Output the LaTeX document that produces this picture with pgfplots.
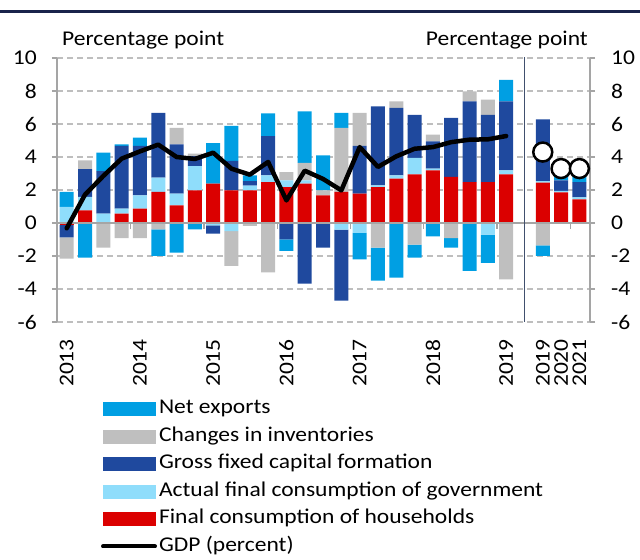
\documentclass[border=0pt]{standalone}
\usepackage{pgfplots}
\pgfplotsset{compat=1.18}
\usepackage{pgfplotstable}
\usepackage{fontspec}
\setmainfont{Carlito}[FakeStretch=1.12]

\definecolor{cNE}{RGB}{0,159,227}
\definecolor{cINV}{RGB}{191,191,191}
\definecolor{cGF}{RGB}{31,73,158}
\definecolor{cGOV}{RGB}{143,221,251}
\definecolor{cHH}{RGB}{219,0,0}
\definecolor{cGrid}{RGB}{190,190,190}
\definecolor{cAx}{RGB}{165,165,165}
\definecolor{cSep}{RGB}{65,80,110}
\definecolor{cRule}{RGB}{25,35,75}

% contributions, percentage points (quarters 0..24 = 2013Q1..2019Q1; 26..28 = 2019, 2020, 2021)
\pgfplotstableread{
i   hh    gov    gfcf   inv    ne
0  -0.12  0.97  -0.75  -1.29   0.91
1   0.77  0.81   1.68   0.53  -2.10
2   0.00  0.57   2.57  -1.50   1.13
3   0.57  0.30   3.80  -0.91   0.10
4   0.87  0.81   2.99  -0.91   0.50
5   1.88  0.87   3.92  -0.38  -1.62
6   1.07  0.71   2.99   0.99  -1.80
7   1.98  1.47   0.60   0.15  -0.38
8   2.38 -0.15  -0.50   0.00   2.46
9   1.98 -0.50   1.78  -2.10   2.12
10  1.98  0.28   0.28  -0.18   0.34
11  2.48  0.40   2.38  -3.00   1.39
12  2.18  0.40  -1.00   0.50  -0.69
13  2.38  0.20  -3.67   1.07   3.11
14  1.68  0.00  -1.50   0.30   2.12
15  1.88 -0.40  -4.30   3.88   0.91
16  1.78 -0.60   2.89   2.00  -1.60
17  2.18  0.10   4.79  -1.50  -2.00
18  2.69  0.20   4.08   0.40  -3.31
19  2.95  1.00   2.60  -1.31  -0.79
20  3.19  0.10   1.66   0.40  -0.81
21  2.79  0.00   3.58  -0.91  -0.59
22  2.48  0.00   4.89   0.61  -2.90
23  2.48 -0.71   4.08   0.91  -1.70
24  2.95  0.24   4.18  -3.41   1.31
26  2.44  0.10   3.74  -1.35  -0.65
27  1.86  0.08   0.65   0.00   0.70
28  1.43  0.12   0.93   0.00   0.80
}\contrib

\pgfplotstableread{
i  gdp
0  -0.32
1   1.72
2   2.85
3   3.90
4   4.34
5   4.75
6   4.00
7   3.88
8   4.26
9   3.29
10  2.93
11  3.70
12  1.37
13  3.17
14  2.67
15  1.98
16  4.60
17  3.40
18  4.04
19  4.50
20  4.60
21  4.90
22  5.05
23  5.07
24  5.27
}\gdpq

\pgfplotstableread{
i  gdp
26 4.30
27 3.30
28 3.30
}\gdpa

\pgfplotsset{
  base/.style={scale only axis, width=533bp, height=264bp,
    at={(57bp,238bp)}, anchor=south west,
    xmin=-0.53, xmax=28.58, ymin=-6, ymax=10},
}

\begin{document}
\begin{tikzpicture}[font=\fontsize{21bp}{25bp}\selectfont]
\useasboundingbox (0,0) rectangle (640bp,560bp);
\draw[cRule, line width=2.5bp] (0,548.5bp) -- (640bp,548.5bp);
\node[anchor=base west, inner sep=0pt] at (62bp,514bp) {Percentage point};
\node[anchor=base east, inner sep=0pt] at (588bp,514bp) {Percentage point};

% axis A: grid, left axis, x labels, positive parts
\begin{axis}[base, ybar stacked, bar width=14bp,
  axis x line*=bottom, axis y line*=left,
  x axis line style={draw=none},
  y axis line style={cAx, line width=1.2bp},
  xtick={0,4,8,12,16,20,24,26,27,28},
  xticklabels={2013,2014,2015,2016,2017,2018,2019,2019,2020,2021},
  x tick style={draw=none},
  xticklabel style={rotate=90, anchor=east, inner sep=0pt},
  xticklabel shift=12bp,
  ytick={-6,-4,-2,0,2,4,6,8,10},
  yticklabels={-6,-4,-2,0,2,4,6,8,10},
  y tick style={cAx, line width=1.2bp},
  tick align=outside, major tick length=5bp,
  yticklabel style={anchor=east, inner sep=0pt},
  yticklabel shift=15bp,
  ymajorgrids,
  grid style={cGrid, line width=1.3bp, dash pattern=on 6bp off 4bp},
]
\addplot[fill=cHH, draw=none] table[x=i, y expr={max(\thisrow{hh},0)}] {\contrib};
\addplot[fill=cGOV, draw=none] table[x=i, y expr={max(\thisrow{gov},0)}] {\contrib};
\addplot[fill=cGF, draw=none] table[x=i, y expr={max(\thisrow{gfcf},0)}] {\contrib};
\addplot[fill=cINV, draw=none] table[x=i, y expr={max(\thisrow{inv},0)}] {\contrib};
\addplot[fill=cNE, draw=none] table[x=i, y expr={max(\thisrow{ne},0)}] {\contrib};
\end{axis}

% axis B: negative parts
\begin{axis}[base, hide axis, ybar stacked, bar width=14bp]
\addplot[fill=cHH, draw=none] table[x=i, y expr={min(\thisrow{hh},0)}] {\contrib};
\addplot[fill=cGOV, draw=none] table[x=i, y expr={min(\thisrow{gov},0)}] {\contrib};
\addplot[fill=cGF, draw=none] table[x=i, y expr={min(\thisrow{gfcf},0)}] {\contrib};
\addplot[fill=cINV, draw=none] table[x=i, y expr={min(\thisrow{inv},0)}] {\contrib};
\addplot[fill=cNE, draw=none] table[x=i, y expr={min(\thisrow{ne},0)}] {\contrib};
\end{axis}

% axis C: right axis, zero line, separator, GDP, legend
\begin{axis}[base, axis x line=none, axis y line*=right,
  y axis line style={cAx, line width=1.2bp},
  ytick={-6,-4,-2,0,2,4,6,8,10},
  yticklabels={-6,-4,-2,0,2,4,6,8,10},
  y tick style={cAx, line width=1.2bp},
  tick align=outside, major tick length=5bp,
  yticklabel style={anchor=west, inner sep=0pt},
  yticklabel shift=16bp,
  legend style={at={(axis description cs:0.0826,-0.284)}, anchor=north west,
    draw=none, fill=none, inner sep=0pt, outer sep=0pt, row sep=3.5bp,
    font=\fontsize{21bp}{25bp}\selectfont,
    nodes={inner sep=2bp, text height=15bp, text depth=5bp},
    /tikz/every even column/.append style={column sep=0pt}},
  legend cell align=left,
]
\draw[cAx, line width=1.3bp] (axis cs:-0.53,0) -- (axis cs:28.58,0);
\draw[cAx, line width=1.2bp] (axis cs:3.5,0) -- ([yshift=-6bp]axis cs:3.5,0);
\draw[cAx, line width=1.2bp] (axis cs:7.5,0) -- ([yshift=-6bp]axis cs:7.5,0);
\draw[cAx, line width=1.2bp] (axis cs:11.5,0) -- ([yshift=-6bp]axis cs:11.5,0);
\draw[cAx, line width=1.2bp] (axis cs:15.5,0) -- ([yshift=-6bp]axis cs:15.5,0);
\draw[cAx, line width=1.2bp] (axis cs:19.5,0) -- ([yshift=-6bp]axis cs:19.5,0);
\draw[cAx, line width=1.2bp] (axis cs:23.5,0) -- ([yshift=-6bp]axis cs:23.5,0);
\draw[cAx, line width=1.2bp] (axis cs:27.5,0) -- ([yshift=-6bp]axis cs:27.5,0);
\draw[cSep, line width=1.5bp] (axis cs:25,-6) -- ([yshift=5bp]axis cs:25,10);

\addlegendimage{legend image code/.code={\fill[cNE] (0bp,-6.7bp) rectangle (52bp,6.7bp);}}
\addlegendentry{Net exports}
\addlegendimage{legend image code/.code={\fill[cINV] (0bp,-6.7bp) rectangle (52bp,6.7bp);}}
\addlegendentry{Changes in inventories}
\addlegendimage{legend image code/.code={\fill[cGF] (0bp,-6.7bp) rectangle (52bp,6.7bp);}}
\addlegendentry{Gross fixed capital formation}
\addlegendimage{legend image code/.code={\fill[cGOV] (0bp,-6.7bp) rectangle (52bp,6.7bp);}}
\addlegendentry{Actual final consumption of government}
\addlegendimage{legend image code/.code={\fill[cHH] (0bp,-6.7bp) rectangle (52bp,6.7bp);}}
\addlegendentry{Final consumption of households}
\addlegendimage{legend image code/.code={\draw[black, line width=4bp, line cap=round] (0bp,0bp) -- (52bp,0bp);}}
\addlegendentry{GDP (percent)}

\addplot[forget plot, black, line width=4.5bp, line join=round, line cap=round, mark=none]
  table[x=i, y=gdp] {\gdpq};
\addplot[forget plot, only marks, mark=*, mark size=9.5bp,
  mark options={fill=white, draw=black, line width=2.5bp}]
  table[x=i, y=gdp] {\gdpa};
\end{axis}
\end{tikzpicture}
\end{document}
